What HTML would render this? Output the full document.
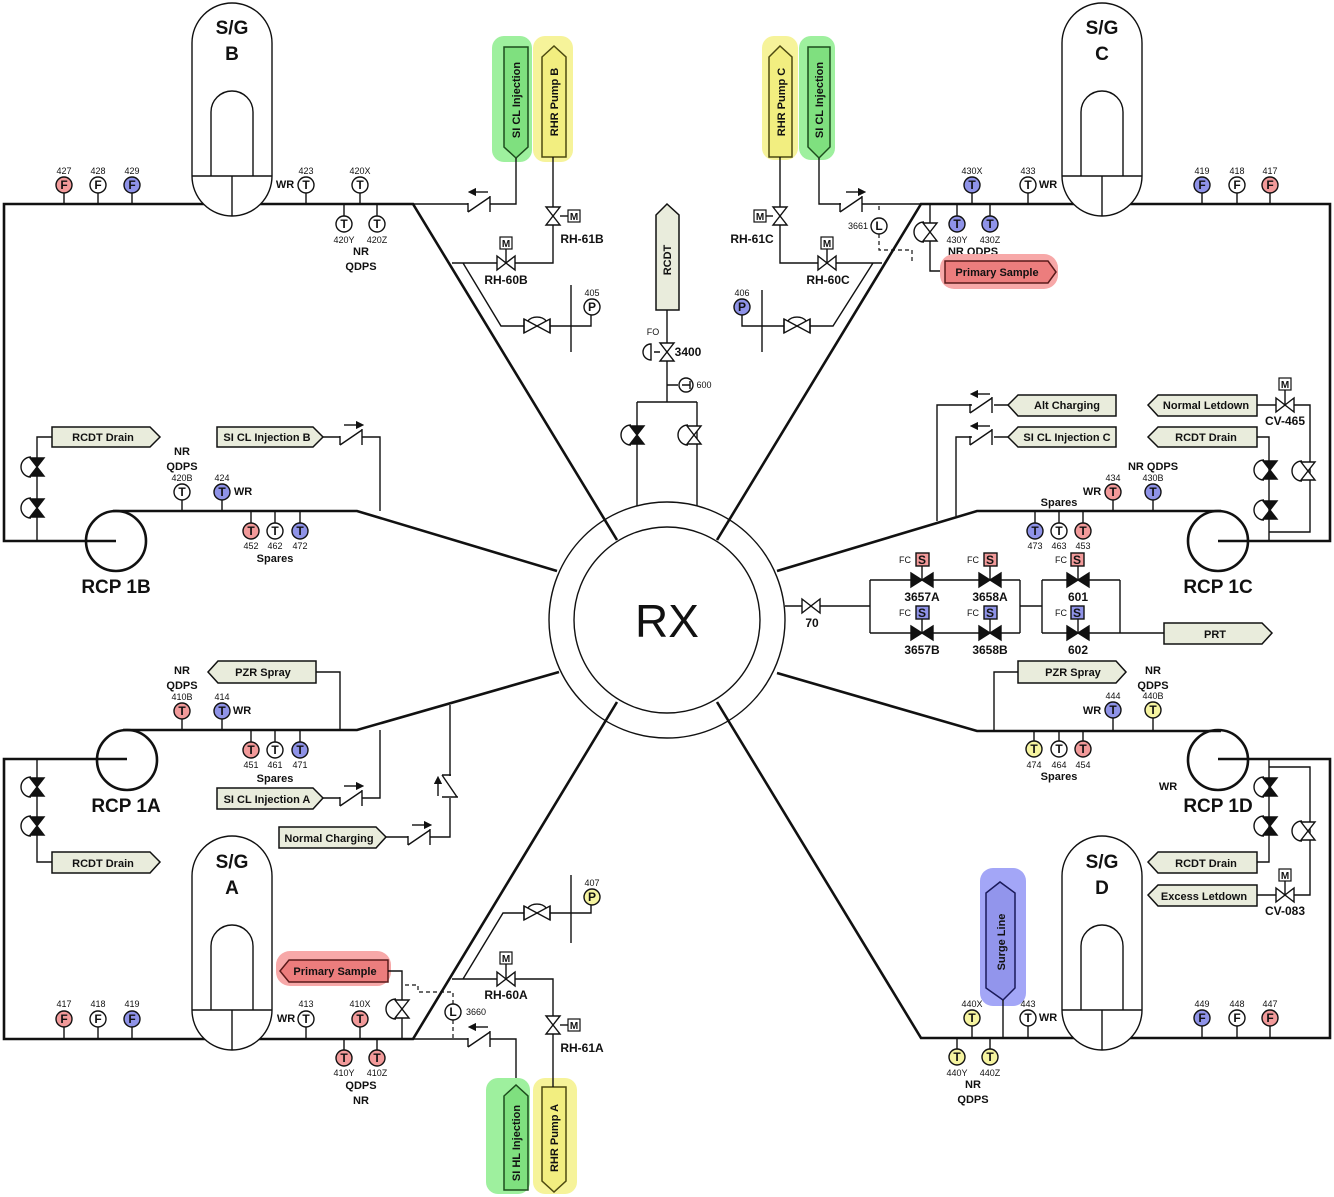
<!DOCTYPE html>
<html><head><meta charset="utf-8"><style>
html,body{margin:0;padding:0;background:#fff}
svg{display:block}
text{font-family:"Liberation Sans",sans-serif;fill:#111}
.p{stroke:#111;stroke-width:2.6;fill:none}
.l{stroke:#111;stroke-width:1.4;fill:none}
.d{stroke:#111;stroke-width:1.2;fill:none;stroke-dasharray:4,3}
.w{fill:#fff;stroke:#111;stroke-width:1.4}
.r{fill:#f29a9a;stroke:#111;stroke-width:1.4}
.b{fill:#8f93e8;stroke:#111;stroke-width:1.4}
.y{fill:#f6f4a0;stroke:#111;stroke-width:1.4}
.il{font-size:12px;text-anchor:middle;font-weight:bold}
.n{font-size:9px;text-anchor:middle}
.lb{font-size:11px;font-weight:bold;text-anchor:middle}
.vl{font-size:12px;font-weight:bold;text-anchor:middle}
.tg{fill:#e9ecdc;stroke:#111;stroke-width:1.5}
.tt{font-size:11px;font-weight:bold;text-anchor:middle}
.big{font-size:19px;font-weight:bold;text-anchor:middle}
</style></head><body>
<svg width="1334" height="1197" viewBox="0 0 1334 1197" xmlns="http://www.w3.org/2000/svg">
<defs>
<g id="vh"><path d="M-9,-7 L0,0 L-9,7Z M9,-7 L0,0 L9,7Z" fill="#fff" stroke="#111" stroke-width="1.4"/></g>
<g id="vv"><path d="M-7,-9 L0,0 L7,-9Z M-7,9 L0,0 L7,9Z" fill="#fff" stroke="#111" stroke-width="1.4"/></g>
<g id="vva"><path d="M-7,-9 L0,0 L7,-9Z M-7,9 L0,0 L7,9Z" fill="#fff" stroke="#111" stroke-width="1.4"/><path d="M-6,-10 A10,10 0 0 0 -6,10" fill="none" stroke="#111" stroke-width="1.4"/></g>
<g id="vbk"><path d="M-7,-9 L0,0 L7,-9Z M-7,9 L0,0 L7,9Z" fill="#111" stroke="#111" stroke-width="1.4"/><path d="M-6,-10 A10,10 0 0 0 -6,10" fill="none" stroke="#111" stroke-width="1.4"/></g>
<g id="vhb"><path d="M-11,-7 L0,0 L-11,7Z M11,-7 L0,0 L11,7Z" fill="#111" stroke="#111" stroke-width="1.4"/></g>
<g id="bf"><path d="M-13,-7 L13,7 L13,-7 L-13,7Z" fill="#fff" stroke="#111" stroke-width="1.4"/><path d="M-13,-7 L-13,7 M13,-7 L13,7 M-9,-5 A10,7 0 0 1 9,-5" fill="none" stroke="#111" stroke-width="1.4"/></g>
<g id="ck"><path d="M-12,-1 L-12,8 M-12,8 L10,-7 M10,-8 L10,8" fill="none" stroke="#111" stroke-width="1.4"/></g>
<g id="ckv"><path d="M1,-12 L-8,-12 M-8,-12 L7,10 M-8,10 L8,10" fill="none" stroke="#111" stroke-width="1.4"/></g>
<g id="m"><rect x="-6" y="-6" width="12" height="12" fill="#fff" stroke="#111" stroke-width="1.2"/><text x="0" y="4" font-size="10" text-anchor="middle" font-weight="bold">M</text></g>
<marker id="ah" markerWidth="6" markerHeight="6" refX="3" refY="3" orient="auto"><path d="M0,0 L6,3 L0,6Z" fill="#111"/></marker>
</defs>

<!-- RX -->
<circle cx="667" cy="620" r="118" class="w" stroke-width="1.6"/>
<circle cx="667" cy="620" r="93" class="w" stroke-width="1.4"/>
<text x="667" y="637" font-size="46" text-anchor="middle">RX</text>

<!-- main loops -->
<path class="p" d="M617,540 L413,204 L4,204 L4,541 L116,541"/>
<path class="p" d="M113,511 L357,511 L557,571"/>
<path class="p" d="M717,540 L921,204 L1330,204 L1330,541 L1218,541"/>
<path class="p" d="M1221,511 L977,511 L777,571"/>
<path class="p" d="M617,702 L413,1039 L4,1039 L4,759 L127,759"/>
<path class="p" d="M123,730 L357,730 L559,672"/>
<path class="p" d="M717,702 L921,1038 L1330,1038 L1330,759 L1218,759"/>
<path class="p" d="M1221,731 L977,731 L777,673"/>

<!-- RCPs -->
<circle cx="116" cy="541" r="30" class="p"/>
<circle cx="1218" cy="541" r="30" class="p"/>
<circle cx="127" cy="760" r="30" class="p"/>
<circle cx="1218" cy="760" r="30" class="p"/>
<text x="116" y="593" class="big" font-size="18">RCP 1B</text>
<text x="1218" y="593" class="big" font-size="18">RCP 1C</text>
<text x="126" y="812" class="big" font-size="18">RCP 1A</text>
<text x="1218" y="812" class="big" font-size="18">RCP 1D</text>

<!-- Steam generators -->
<g>
<path class="w" stroke-width="1.8" d="M192,176 L192,43 A40,40 0 0 1 272,43 L272,176 A40,40 0 0 1 192,176Z"/>
<path class="l" stroke-width="1.8" d="M192,176 L272,176 M232,176 L232,216 M211,176 L211,112 A21,21 0 0 1 253,112 L253,176"/>
<text x="232" y="34" class="big">S/G</text><text x="232" y="60" class="big">B</text>
</g>
<g>
<path class="w" stroke-width="1.8" d="M1062,176 L1062,43 A40,40 0 0 1 1142,43 L1142,176 A40,40 0 0 1 1062,176Z"/>
<path class="l" stroke-width="1.8" d="M1062,176 L1142,176 M1102,176 L1102,216 M1081,176 L1081,112 A21,21 0 0 1 1123,112 L1123,176"/>
<text x="1102" y="34" class="big">S/G</text><text x="1102" y="60" class="big">C</text>
</g>
<g>
<path class="w" stroke-width="1.8" d="M192,1010 L192,876 A40,40 0 0 1 272,876 L272,1010 A40,40 0 0 1 192,1010Z"/>
<path class="l" stroke-width="1.8" d="M192,1010 L272,1010 M232,1010 L232,1050 M211,1010 L211,946 A21,21 0 0 1 253,946 L253,1010"/>
<text x="232" y="868" class="big">S/G</text><text x="232" y="894" class="big">A</text>
</g>
<g>
<path class="w" stroke-width="1.8" d="M1062,1010 L1062,876 A40,40 0 0 1 1142,876 L1142,1010 A40,40 0 0 1 1062,1010Z"/>
<path class="l" stroke-width="1.8" d="M1062,1010 L1142,1010 M1102,1010 L1102,1050 M1081,1010 L1081,946 A21,21 0 0 1 1123,946 L1123,1010"/>
<text x="1102" y="868" class="big">S/G</text><text x="1102" y="894" class="big">D</text>
</g>

<!-- ===== Instruments ===== -->
<g class="l">
<path d="M64,193V204 M98,193V204 M132,193V204 M306,193V204 M360,193V204 M344,204V216 M377,204V216"/>
<path d="M182,500V511 M222,500V511 M251,511V523 M275,511V523 M300,511V523"/>
<path d="M972,193V204 M1028,193V204 M1202,193V204 M1237,193V204 M1270,193V204 M957,204V216 M990,204V216"/>
<path d="M1113,500V511 M1153,500V511 M1035,511V523 M1059,511V523 M1083,511V523"/>
<path d="M182,719V730 M222,719V730 M251,730V742 M275,730V742 M300,730V742"/>
<path d="M64,1027V1039 M98,1027V1039 M132,1027V1039 M306,1027V1039 M360,1027V1039 M344,1039V1050 M377,1039V1050"/>
<path d="M1113,718V731 M1153,718V731 M1034,731V741 M1059,731V741 M1083,731V741"/>
<path d="M972,1026V1038 M1028,1026V1038 M1202,1026V1038 M1237,1026V1038 M1270,1026V1038 M957,1038V1049 M990,1038V1049"/>
</g>
<!-- TL -->
<circle cx="64" cy="185" r="8" class="r"/><text x="64" y="189" class="il">F</text><text x="64" y="174" class="n">427</text>
<circle cx="98" cy="185" r="8" class="w"/><text x="98" y="189" class="il">F</text><text x="98" y="174" class="n">428</text>
<circle cx="132" cy="185" r="8" class="b"/><text x="132" y="189" class="il">F</text><text x="132" y="174" class="n">429</text>
<circle cx="306" cy="185" r="8" class="w"/><text x="306" y="189" class="il">T</text><text x="306" y="174" class="n">423</text><text x="285" y="188" class="lb">WR</text>
<circle cx="360" cy="185" r="8" class="w"/><text x="360" y="189" class="il">T</text><text x="360" y="174" class="n">420X</text>
<circle cx="344" cy="224" r="8" class="w"/><text x="344" y="228" class="il">T</text><text x="344" y="243" class="n">420Y</text>
<circle cx="377" cy="224" r="8" class="w"/><text x="377" y="228" class="il">T</text><text x="377" y="243" class="n">420Z</text>
<text x="361" y="255" class="lb">NR</text><text x="361" y="270" class="lb">QDPS</text>
<text x="182" y="455" class="lb">NR</text><text x="182" y="470" class="lb">QDPS</text>
<circle cx="182" cy="492" r="8" class="w"/><text x="182" y="496" class="il">T</text><text x="182" y="481" class="n">420B</text>
<circle cx="222" cy="492" r="8" class="b"/><text x="222" y="496" class="il">T</text><text x="222" y="481" class="n">424</text><text x="243" y="495" class="lb">WR</text>
<circle cx="251" cy="531" r="8" class="r"/><text x="251" y="535" class="il">T</text><text x="251" y="549" class="n">452</text>
<circle cx="275" cy="531" r="8" class="w"/><text x="275" y="535" class="il">T</text><text x="275" y="549" class="n">462</text>
<circle cx="300" cy="531" r="8" class="b"/><text x="300" y="535" class="il">T</text><text x="300" y="549" class="n">472</text>
<text x="275" y="562" class="lb">Spares</text>
<!-- TR -->
<circle cx="972" cy="185" r="8" class="b"/><text x="972" y="189" class="il">T</text><text x="972" y="174" class="n">430X</text>
<circle cx="1028" cy="185" r="8" class="w"/><text x="1028" y="189" class="il">T</text><text x="1028" y="174" class="n">433</text><text x="1048" y="188" class="lb">WR</text>
<circle cx="1202" cy="185" r="8" class="b"/><text x="1202" y="189" class="il">F</text><text x="1202" y="174" class="n">419</text>
<circle cx="1237" cy="185" r="8" class="w"/><text x="1237" y="189" class="il">F</text><text x="1237" y="174" class="n">418</text>
<circle cx="1270" cy="185" r="8" class="r"/><text x="1270" y="189" class="il">F</text><text x="1270" y="174" class="n">417</text>
<circle cx="957" cy="224" r="8" class="b"/><text x="957" y="228" class="il">T</text><text x="957" y="243" class="n">430Y</text>
<circle cx="990" cy="224" r="8" class="b"/><text x="990" y="228" class="il">T</text><text x="990" y="243" class="n">430Z</text>
<text x="973" y="255" class="lb">NR QDPS</text>
<text x="1153" y="470" class="lb">NR QDPS</text>
<circle cx="1113" cy="492" r="8" class="r"/><text x="1113" y="496" class="il">T</text><text x="1113" y="481" class="n">434</text><text x="1092" y="495" class="lb">WR</text>
<circle cx="1153" cy="492" r="8" class="b"/><text x="1153" y="496" class="il">T</text><text x="1153" y="481" class="n">430B</text>
<text x="1059" y="506" class="lb">Spares</text>
<circle cx="1035" cy="531" r="8" class="b"/><text x="1035" y="535" class="il">T</text><text x="1035" y="549" class="n">473</text>
<circle cx="1059" cy="531" r="8" class="w"/><text x="1059" y="535" class="il">T</text><text x="1059" y="549" class="n">463</text>
<circle cx="1083" cy="531" r="8" class="r"/><text x="1083" y="535" class="il">T</text><text x="1083" y="549" class="n">453</text>
<!-- BL -->
<text x="182" y="674" class="lb">NR</text><text x="182" y="689" class="lb">QDPS</text>
<circle cx="182" cy="711" r="8" class="r"/><text x="182" y="715" class="il">T</text><text x="182" y="700" class="n">410B</text>
<circle cx="222" cy="711" r="8" class="b"/><text x="222" y="715" class="il">T</text><text x="222" y="700" class="n">414</text><text x="242" y="714" class="lb">WR</text>
<circle cx="251" cy="750" r="8" class="r"/><text x="251" y="754" class="il">T</text><text x="251" y="768" class="n">451</text>
<circle cx="275" cy="750" r="8" class="w"/><text x="275" y="754" class="il">T</text><text x="275" y="768" class="n">461</text>
<circle cx="300" cy="750" r="8" class="b"/><text x="300" y="754" class="il">T</text><text x="300" y="768" class="n">471</text>
<text x="275" y="782" class="lb">Spares</text>
<circle cx="64" cy="1019" r="8" class="r"/><text x="64" y="1023" class="il">F</text><text x="64" y="1007" class="n">417</text>
<circle cx="98" cy="1019" r="8" class="w"/><text x="98" y="1023" class="il">F</text><text x="98" y="1007" class="n">418</text>
<circle cx="132" cy="1019" r="8" class="b"/><text x="132" y="1023" class="il">F</text><text x="132" y="1007" class="n">419</text>
<circle cx="306" cy="1019" r="8" class="w"/><text x="306" y="1023" class="il">T</text><text x="306" y="1007" class="n">413</text><text x="286" y="1022" class="lb">WR</text>
<circle cx="360" cy="1019" r="8" class="r"/><text x="360" y="1023" class="il">T</text><text x="360" y="1007" class="n">410X</text>
<circle cx="344" cy="1058" r="8" class="r"/><text x="344" y="1062" class="il">T</text><text x="344" y="1076" class="n">410Y</text>
<circle cx="377" cy="1058" r="8" class="r"/><text x="377" y="1062" class="il">T</text><text x="377" y="1076" class="n">410Z</text>
<text x="361" y="1089" class="lb">QDPS</text><text x="361" y="1104" class="lb">NR</text>
<!-- BR -->
<text x="1153" y="674" class="lb">NR</text><text x="1153" y="689" class="lb">QDPS</text>
<circle cx="1113" cy="710" r="8" class="b"/><text x="1113" y="714" class="il">T</text><text x="1113" y="699" class="n">444</text><text x="1092" y="714" class="lb">WR</text>
<circle cx="1153" cy="710" r="8" class="y"/><text x="1153" y="714" class="il">T</text><text x="1153" y="699" class="n">440B</text>
<circle cx="1034" cy="749" r="8" class="y"/><text x="1034" y="753" class="il">T</text><text x="1034" y="768" class="n">474</text>
<circle cx="1059" cy="749" r="8" class="w"/><text x="1059" y="753" class="il">T</text><text x="1059" y="768" class="n">464</text>
<circle cx="1083" cy="749" r="8" class="r"/><text x="1083" y="753" class="il">T</text><text x="1083" y="768" class="n">454</text>
<text x="1059" y="780" class="lb">Spares</text>
<text x="1168" y="790" class="lb">WR</text>
<circle cx="972" cy="1018" r="8" class="y"/><text x="972" y="1022" class="il">T</text><text x="972" y="1007" class="n">440X</text>
<circle cx="1028" cy="1018" r="8" class="w"/><text x="1028" y="1022" class="il">T</text><text x="1028" y="1007" class="n">443</text><text x="1048" y="1021" class="lb">WR</text>
<circle cx="1202" cy="1018" r="8" class="b"/><text x="1202" y="1022" class="il">F</text><text x="1202" y="1007" class="n">449</text>
<circle cx="1237" cy="1018" r="8" class="w"/><text x="1237" y="1022" class="il">F</text><text x="1237" y="1007" class="n">448</text>
<circle cx="1270" cy="1018" r="8" class="r"/><text x="1270" y="1022" class="il">F</text><text x="1270" y="1007" class="n">447</text>
<circle cx="957" cy="1057" r="8" class="y"/><text x="957" y="1061" class="il">T</text><text x="957" y="1076" class="n">440Y</text>
<circle cx="990" cy="1057" r="8" class="y"/><text x="990" y="1061" class="il">T</text><text x="990" y="1076" class="n">440Z</text>
<text x="973" y="1088" class="lb">NR</text><text x="973" y="1103" class="lb">QDPS</text>

<!-- ===== Top-left branches ===== -->
<rect x="492" y="36" width="40" height="126" rx="12" fill="#9ef09e"/>
<rect x="533" y="36" width="40" height="126" rx="12" fill="#f6f39a"/>
<path d="M504,47 L528,47 L528,147 L516,158 L504,147Z" fill="#7fe07f" stroke="#1d4d1d" stroke-width="1.5"/>
<path d="M542,57 L554,46 L566,57 L566,157 L542,157Z" fill="#f2ee80" stroke="#4d4a10" stroke-width="1.5"/>
<text transform="translate(520,100) rotate(-90)" class="tt" font-size="10.5" fill="#1d3d1d">SI CL Injection</text>
<text transform="translate(558,102) rotate(-90)" class="tt" font-size="10.5" fill="#444">RHR Pump B</text>
<path class="l" d="M413,204 L468,204 M490,204 L516,204 L516,158"/>
<use href="#ck" x="480" y="204"/>
<path d="M488,192 L472,192" class="l" marker-end="url(#ah)"/>
<path class="l" d="M553,157 L553,263 L452,263 M463,263 L501,326 L591,326 L591,315 M571,285 L571,352"/>
<use href="#vv" x="553" y="216"/><path class="l" d="M560,216 H568"/><use href="#m" x="574" y="216"/>
<use href="#vh" x="506" y="263"/><path class="l" d="M506,263 V249"/><use href="#m" x="506" y="243"/>
<text x="582" y="243" class="vl">RH-61B</text><text x="506" y="284" class="vl">RH-60B</text>
<use href="#bf" x="537" y="326"/>
<circle cx="592" cy="307" r="8" class="w"/><text x="592" y="311" class="il">P</text><text x="592" y="296" class="n">405</text>

<!-- ===== Top-right branches ===== -->
<rect x="762" y="36" width="36" height="124" rx="12" fill="#f6f39a"/>
<rect x="799" y="36" width="36" height="124" rx="12" fill="#9ef09e"/>
<path d="M769,57 L780,46 L792,57 L792,157 L769,157Z" fill="#f2ee80" stroke="#4d4a10" stroke-width="1.5"/>
<path d="M808,47 L830,47 L830,147 L819,158 L808,147Z" fill="#7fe07f" stroke="#1d4d1d" stroke-width="1.5"/>
<text transform="translate(785,102) rotate(-90)" class="tt" font-size="10.5" fill="#444">RHR Pump C</text>
<text transform="translate(823,100) rotate(-90)" class="tt" font-size="10.5" fill="#1d3d1d">SI CL Injection</text>
<path class="l" d="M819,158 L819,204 L841,204 M862,204 L921,204"/>
<use href="#ck" x="852" y="204"/>
<path d="M846,192 L862,192" class="l" marker-end="url(#ah)"/>
<path class="l" d="M780,157 L780,263 L882,263 M873,263 L833,326 L742,326 L742,315 M762,290 L762,352"/>
<use href="#vv" x="780" y="216"/><path class="l" d="M773,216 H766"/><use href="#m" x="760" y="216"/>
<use href="#vh" x="827" y="263"/><path class="l" d="M827,263 V249"/><use href="#m" x="827" y="243"/>
<text x="752" y="243" class="vl">RH-61C</text><text x="828" y="284" class="vl">RH-60C</text>
<use href="#bf" x="797" y="326"/>
<circle cx="742" cy="307" r="8" class="b"/><text x="742" y="311" class="il">P</text><text x="742" y="296" class="n">406</text>
<circle cx="879" cy="226" r="8" class="w"/><text x="879" y="230" class="il">L</text><text x="858" y="229" class="n">3661</text>
<path class="d" d="M879,210 V204 M879,234 V250 L912,250 L912,263"/>
<path class="l" d="M930,204 L930,271 L942,271"/>
<use href="#vva" x="930" y="232"/>
<rect x="940" y="254" width="118" height="35" rx="14" fill="#f7a8a8"/>
<path d="M945,261 L1048,261 L1056,272 L1048,283 L945,283Z" fill="#ec7d7d" stroke="#5a1a1a" stroke-width="1.5"/>
<text x="997" y="276" class="tt" fill="#5a1010">Primary Sample</text>

<!-- ===== RCDT / 3400 ===== -->
<path class="tg" d="M656,215 L667,204 L679,215 L679,310 L656,310Z"/>
<text transform="translate(671,260) rotate(-90)" class="tt" font-size="10">RCDT</text>
<path class="l" d="M667,310 L667,402 M637,402 L697,402 M637,402 L637,506 M697,402 L697,506 M667,385 L678,385"/>
<use href="#vv" x="667" y="352"/>
<path class="l" d="M660,352 H654 M651,344 A8,8 0 0 0 651,360 Z"/>
<text x="653" y="335" class="n" font-size="8">FO</text>
<text x="688" y="356" class="vl">3400</text>
<circle cx="686" cy="385" r="7" class="w"/><path class="l" d="M682,385 H690 M690,381 V389"/>
<text x="704" y="388" class="n" font-size="8.5">600</text>
<use href="#vbk" x="637" y="435"/>
<use href="#vva" x="694" y="435"/>

<!-- ===== Left side TL ===== -->
<path class="tg" d="M52,427 L150,427 L160,437 L150,447 L52,447Z"/><text x="103" y="441" class="tt">RCDT Drain</text>
<path class="l" d="M52,437 L37,437 L37,541"/>
<use href="#vbk" x="37" y="467"/><use href="#vbk" x="37" y="508"/>
<path class="tg" d="M217,427 L313,427 L323,437 L313,447 L217,447Z"/><text x="267" y="441" class="tt">SI CL Injection B</text>
<path class="l" d="M323,437 L340,437 M362,437 L380,437 L380,511"/>
<use href="#ck" x="352" y="437"/>
<path d="M344,425 L360,425" class="l" marker-end="url(#ah)"/>

<!-- ===== Right side TR ===== -->
<path class="tg" d="M1018,395 L1116,395 L1116,416 L1018,416 L1008,405Z"/><text x="1067" y="409" class="tt">Alt Charging</text>
<path class="tg" d="M1018,427 L1116,427 L1116,447 L1018,447 L1008,437Z"/><text x="1067" y="441" class="tt">SI CL Injection C</text>
<path class="l" d="M1008,405 L994,405 M972,405 L937,405 L937,521 M1008,437 L994,437 M972,437 L956,437 L956,516"/>
<use href="#ck" x="982" y="405"/><use href="#ck" x="982" y="437"/>
<path d="M990,394 L974,394" class="l" marker-end="url(#ah)"/>
<path d="M990,426 L974,426" class="l" marker-end="url(#ah)"/>
<path class="tg" d="M1158,395 L1257,395 L1257,416 L1158,416 L1148,405Z"/><text x="1206" y="409" class="tt">Normal Letdown</text>
<path class="tg" d="M1158,427 L1257,427 L1257,447 L1158,447 L1148,437Z"/><text x="1206" y="441" class="tt">RCDT Drain</text>
<path class="l" d="M1257,405 L1310,405 L1310,532 L1269,532 M1257,437 L1269,437 L1269,541"/>
<use href="#vh" x="1285" y="405"/><path class="l" d="M1285,405 V390"/><use href="#m" x="1285" y="384"/>
<text x="1285" y="425" class="vl">CV-465</text>
<use href="#vva" x="1308" y="471"/>
<use href="#vbk" x="1270" y="470"/><use href="#vbk" x="1270" y="510"/>

<!-- ===== Isolation valves ===== -->
<path class="l" d="M785,606 L870,606 M870,580 L870,633 M870,580 L1020,580 M870,633 L1020,633 M1020,580 L1020,633 M1020,606 L1042,606 M1042,580 L1042,633 M1042,580 L1120,580 M1042,633 L1120,633 M1120,580 L1120,633 M1120,633 L1164,633"/>
<use href="#vh" x="811" y="606"/><text x="812" y="627" class="vl">70</text>
<g>
<path class="l" d="M922,580 V566 M990,580 V566 M1078,580 V566 M922,633 V619 M990,633 V619 M1078,633 V619"/>
<use href="#vhb" x="922" y="580"/><use href="#vhb" x="990" y="580"/><use href="#vhb" x="1078" y="580"/>
<use href="#vhb" x="922" y="633"/><use href="#vhb" x="990" y="633"/><use href="#vhb" x="1078" y="633"/>
<rect x="916" y="553" width="13" height="13" class="r" stroke-width="1.1"/><text x="922" y="564" class="il" font-size="11">S</text>
<rect x="984" y="553" width="13" height="13" class="r" stroke-width="1.1"/><text x="990" y="564" class="il" font-size="11">S</text>
<rect x="1071" y="553" width="13" height="13" class="r" stroke-width="1.1"/><text x="1077" y="564" class="il" font-size="11">S</text>
<rect x="916" y="606" width="13" height="13" class="b" stroke-width="1.1"/><text x="922" y="617" class="il" font-size="11">S</text>
<rect x="984" y="606" width="13" height="13" class="b" stroke-width="1.1"/><text x="990" y="617" class="il" font-size="11">S</text>
<rect x="1071" y="606" width="13" height="13" class="b" stroke-width="1.1"/><text x="1077" y="617" class="il" font-size="11">S</text>
<text x="905" y="563" class="n" font-size="8">FC</text><text x="973" y="563" class="n" font-size="8">FC</text><text x="1061" y="563" class="n" font-size="8">FC</text>
<text x="905" y="616" class="n" font-size="8">FC</text><text x="973" y="616" class="n" font-size="8">FC</text><text x="1061" y="616" class="n" font-size="8">FC</text>
<text x="922" y="601" class="vl">3657A</text><text x="990" y="601" class="vl">3658A</text><text x="1078" y="601" class="vl">601</text>
<text x="922" y="654" class="vl">3657B</text><text x="990" y="654" class="vl">3658B</text><text x="1078" y="654" class="vl">602</text>
</g>
<path class="tg" d="M1164,623 L1262,623 L1272,633 L1262,644 L1164,644Z"/><text x="1215" y="638" class="tt">PRT</text>

<!-- ===== BR branches ===== -->
<path class="tg" d="M1018,661 L1116,661 L1126,672 L1116,683 L1018,683Z"/><text x="1073" y="676" class="tt">PZR Spray</text>
<path class="l" d="M1018,672 L994,672 L994,731"/>
<path class="l" d="M1269,759 L1269,862 L1257,862 M1269,767 L1310,767 L1310,895 L1257,895"/>
<use href="#vbk" x="1270" y="787"/><use href="#vbk" x="1270" y="826"/>
<use href="#vva" x="1308" y="831"/>
<use href="#vh" x="1285" y="895"/><path class="l" d="M1285,895 V881"/><use href="#m" x="1285" y="875"/>
<text x="1285" y="915" class="vl">CV-083</text>
<path class="tg" d="M1158,852 L1257,852 L1257,873 L1158,873 L1148,862Z"/><text x="1206" y="867" class="tt">RCDT Drain</text>
<path class="tg" d="M1158,885 L1257,885 L1257,906 L1158,906 L1148,895Z"/><text x="1204" y="900" class="tt">Excess Letdown</text>
<rect x="980" y="868" width="46" height="138" rx="13" fill="#a3a6f7"/>
<path d="M986,893 L1000,882 L1015,893 L1015,988 L1003,1000 L986,988Z" fill="#9295ec" stroke="#1a1a5a" stroke-width="1.5"/>
<text transform="translate(1005,942) rotate(-90)" class="tt" font-size="10.5" fill="#1a1a5a">Surge Line</text>
<path class="l" d="M1003,1000 L1003,1038"/>

<!-- ===== BL branches ===== -->
<path class="tg" d="M218,661 L316,661 L316,683 L218,683 L208,672Z"/><text x="263" y="676" class="tt">PZR Spray</text>
<path class="l" d="M316,672 L340,672 L340,730"/>
<path class="tg" d="M217,788 L313,788 L323,798 L313,809 L217,809Z"/><text x="267" y="803" class="tt">SI CL Injection A</text>
<path class="l" d="M323,798 L340,798 M362,798 L380,798 L380,730"/>
<use href="#ck" x="352" y="798"/>
<path d="M344,786 L360,786" class="l" marker-end="url(#ah)"/>
<path class="tg" d="M279,827 L376,827 L386,837 L376,848 L279,848Z"/><text x="329" y="842" class="tt">Normal Charging</text>
<path class="l" d="M386,837 L408,837 M430,837 L450,837 L450,798 M450,776 L450,705"/>
<use href="#ck" x="420" y="837"/>
<path d="M412,825 L428,825" class="l" marker-end="url(#ah)"/>
<use href="#ckv" x="450" y="787"/>
<path d="M438,796 L438,780" class="l" marker-end="url(#ah)"/>
<path class="l" d="M37,759 L37,862 L52,862"/>
<use href="#vbk" x="37" y="787"/><use href="#vbk" x="37" y="826"/>
<path class="tg" d="M52,852 L150,852 L160,862 L150,873 L52,873Z"/><text x="103" y="867" class="tt">RCDT Drain</text>
<rect x="276" y="951" width="115" height="35" rx="14" fill="#f7a8a8"/>
<path d="M289,960 L388,960 L388,982 L289,982 L280,971Z" fill="#ec7d7d" stroke="#5a1a1a" stroke-width="1.5"/>
<text x="335" y="975" class="tt" fill="#5a1010">Primary Sample</text>
<path class="l" d="M388,971 L402,971 L402,1039"/>
<use href="#vva" x="402" y="1009"/>
<path class="d" d="M405,985 L418,985 L418,992 L453,992 L453,1004 M453,1020 L453,1039"/>
<circle cx="453" cy="1012" r="8" class="w"/><text x="453" y="1016" class="il">L</text><text x="476" y="1015" class="n">3660</text>
<path class="l" d="M413,1039 L468,1039 M490,1039 L516,1039 L516,1085"/>
<use href="#ck" x="480" y="1039"/>
<path d="M488,1027 L472,1027" class="l" marker-end="url(#ah)"/>
<rect x="486" y="1078" width="44" height="116" rx="12" fill="#9ef09e"/>
<rect x="533" y="1078" width="44" height="116" rx="12" fill="#f6f39a"/>
<path d="M504,1096 L516,1085 L528,1096 L528,1190 L504,1190Z" fill="#7fe07f" stroke="#1d4d1d" stroke-width="1.5"/>
<path d="M542,1087 L566,1087 L566,1181 L554,1192 L542,1181Z" fill="#f2ee80" stroke="#4d4a10" stroke-width="1.5"/>
<text transform="translate(520,1143) rotate(-90)" class="tt" font-size="10.5" fill="#1d3d1d">SI HL Injection</text>
<text transform="translate(558,1138) rotate(-90)" class="tt" font-size="10.5" fill="#444">RHR Pump A</text>
<path class="l" d="M553,1087 L553,979 L452,979 M463,979 L503,913 L591,913 L591,905 M571,875 L571,943"/>
<use href="#vv" x="553" y="1025"/><path class="l" d="M560,1025 H568"/><use href="#m" x="574" y="1025"/>
<use href="#vh" x="506" y="979"/><path class="l" d="M506,979 V964"/><use href="#m" x="506" y="958"/>
<text x="506" y="999" class="vl">RH-60A</text><text x="582" y="1052" class="vl">RH-61A</text>
<use href="#bf" x="537" y="913"/>
<circle cx="592" cy="897" r="8" class="y"/><text x="592" y="901" class="il">P</text><text x="592" y="886" class="n">407</text>
</svg>
</body></html>
